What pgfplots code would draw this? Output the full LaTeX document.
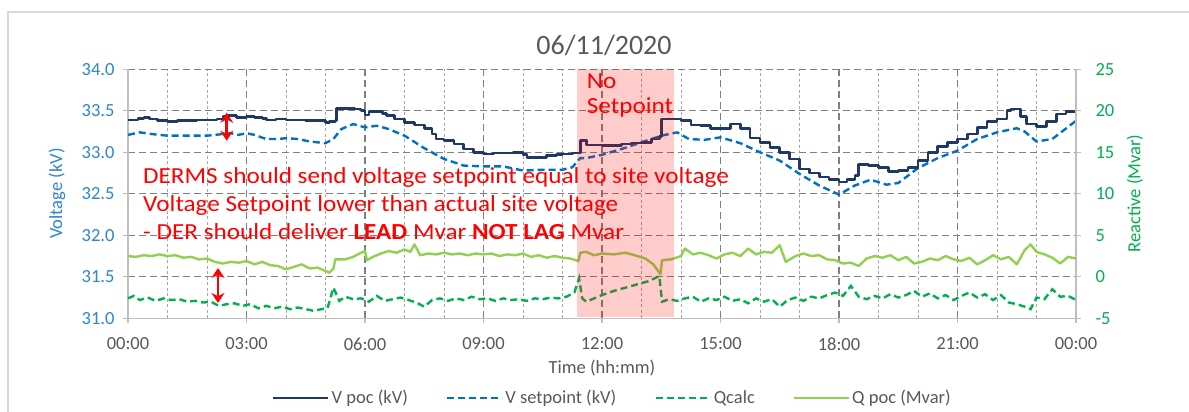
\documentclass[border=0pt]{standalone}
\usepackage{pgfplots}
\pgfplotsset{compat=1.18}
\usepackage{fontspec}
\setmainfont{Carlito}
\usetikzlibrary{arrows.meta}
\definecolor{navy}{RGB}{31,56,100}
\definecolor{vblue}{RGB}{0,112,192}
\definecolor{qcalc}{RGB}{0,176,80}
\definecolor{qpoc}{RGB}{146,208,80}
\definecolor{lblue}{RGB}{46,134,204}
\definecolor{rgreen}{RGB}{0,176,80}
\definecolor{txtgray}{RGB}{89,89,89}
\definecolor{gridgray}{RGB}{128,128,128}
\definecolor{mingray}{RGB}{166,166,166}
\definecolor{axgray}{RGB}{191,191,191}
\definecolor{framegray}{RGB}{217,217,217}
\newcommand\fs[1]{\fontsize{#1}{#1}\selectfont}

\pgfplotstableread{
h v
0.00 33.39
0.15 33.39
0.25 33.41
0.40 33.42
0.55 33.40
0.75 33.38
1.00 33.37
1.25 33.38
1.50 33.38
1.75 33.39
2.00 33.39
2.25 33.40
2.40 33.43
2.55 33.44
2.75 33.42
3.00 33.43
3.20 33.42
3.40 33.41
3.50 33.39
3.75 33.40
4.00 33.39
4.25 33.39
4.50 33.38
4.75 33.38
5.00 33.36
5.10 33.37
5.25 33.38
5.28 33.53
5.50 33.53
5.75 33.52
5.90 33.50
6.00 33.45
6.10 33.49
6.30 33.49
6.45 33.47
6.55 33.44
6.75 33.40
7.00 33.36
7.25 33.33
7.50 33.29
7.70 33.22
7.80 33.16
8.00 33.14
8.25 33.10
8.50 33.04
8.75 33.00
9.00 32.98
9.25 32.99
9.50 32.99
9.75 33.00
10.00 32.97
10.10 32.94
10.40 32.94
10.60 32.96
10.85 32.97
11.00 32.98
11.25 32.99
11.40 32.99
11.45 33.14
11.55 33.15
11.60 33.09
12.00 33.08
12.25 33.08
12.50 33.10
12.75 33.11
13.00 33.12
13.25 33.16
13.45 33.19
13.50 33.40
13.75 33.40
14.00 33.38
14.25 33.33
14.50 33.32
14.75 33.29
15.00 33.29
15.25 33.34
15.50 33.29
15.75 33.17
16.00 33.12
16.25 33.06
16.50 33.00
16.75 32.92
17.00 32.80
17.25 32.75
17.50 32.70
17.75 32.67
18.00 32.64
18.20 32.67
18.40 32.72
18.50 32.85
18.75 32.84
19.00 32.82
19.25 32.77
19.50 32.78
19.75 32.82
20.00 32.90
20.25 33.00
20.50 33.07
20.75 33.12
21.00 33.16
21.25 33.22
21.50 33.30
21.75 33.37
22.00 33.40
22.25 33.50
22.35 33.52
22.60 33.43
22.75 33.34
23.00 33.31
23.25 33.37
23.50 33.46
23.75 33.49
24.00 33.56
}\vpoc

\pgfplotstableread{
h v
0.00 33.21
0.30 33.24
0.60 33.22
1.00 33.20
1.50 33.20
2.00 33.20
2.40 33.22
2.60 33.23
2.80 33.21
3.00 33.23
3.20 33.21
3.50 33.16
3.80 33.16
4.00 33.17
4.30 33.16
4.60 33.13
5.00 33.11
5.20 33.16
5.40 33.28
5.70 33.34
6.00 33.30
6.30 33.32
6.60 33.28
7.00 33.20
7.50 33.05
8.00 32.92
8.50 32.84
9.00 32.83
9.50 32.83
10.00 32.78
10.50 32.79
11.00 32.79
11.25 32.82
11.45 32.93
11.60 32.93
12.00 32.97
12.50 33.04
13.00 33.12
13.50 33.20
13.90 33.24
14.20 33.16
14.60 33.15
15.00 33.18
15.50 33.11
16.00 33.00
16.50 32.90
17.00 32.74
17.50 32.60
18.00 32.49
18.40 32.60
18.80 32.67
19.20 32.61
19.50 32.63
20.00 32.81
20.50 32.93
21.00 33.02
21.50 33.16
22.00 33.24
22.50 33.29
22.70 33.25
23.00 33.13
23.40 33.16
24.00 33.38
}\vset

\pgfplotstableread{
h q
0.00 -2.6
0.15 -2.3
0.30 -2.8
0.50 -2.5
0.70 -2.9
0.90 -2.6
1.10 -2.8
1.30 -2.7
1.50 -3.0
1.70 -2.9
1.90 -3.1
2.10 -3.0
2.30 -3.5
2.50 -3.3
2.70 -3.2
2.90 -3.5
3.10 -3.3
3.30 -3.8
3.50 -3.5
3.70 -3.8
3.90 -3.6
4.10 -3.9
4.30 -3.7
4.50 -3.9
4.70 -4.1
4.90 -3.9
5.05 -3.8
5.20 -1.3
5.35 -2.9
5.50 -2.4
5.70 -2.7
5.90 -2.6
6.10 -3.0
6.30 -2.3
6.50 -2.9
6.70 -2.7
6.90 -2.5
7.10 -2.8
7.30 -3.1
7.50 -3.6
7.70 -2.8
7.90 -2.6
8.10 -2.9
8.30 -2.6
8.50 -2.8
8.70 -2.4
8.90 -2.7
9.10 -2.6
9.30 -2.9
9.50 -2.6
9.70 -2.8
9.90 -2.7
10.10 -2.9
10.30 -2.6
10.50 -2.7
10.70 -2.5
10.90 -2.6
11.10 -2.4
11.30 -1.9
11.42 -0.2
11.50 -2.6
11.60 -3.0
11.80 -2.6
12.00 -2.2
12.30 -1.7
12.60 -1.3
12.90 -0.9
13.20 -0.5
13.45 0.1
13.52 -3.0
13.70 -2.7
13.90 -2.9
14.10 -2.6
14.30 -2.4
14.50 -3.0
14.70 -2.6
14.90 -2.8
15.10 -2.4
15.30 -2.9
15.50 -2.7
15.70 -3.2
15.90 -2.6
16.10 -3.0
16.30 -2.7
16.50 -3.6
16.70 -2.8
16.90 -2.5
17.10 -2.9
17.30 -2.4
17.50 -2.6
17.70 -2.2
17.90 -1.9
18.10 -2.3
18.30 -1.1
18.50 -2.4
18.70 -2.7
18.90 -2.3
19.10 -2.6
19.30 -2.1
19.50 -2.5
19.70 -2.2
19.90 -1.7
20.10 -2.4
20.30 -2.0
20.50 -2.6
20.70 -2.2
20.90 -2.8
21.10 -2.3
21.30 -1.9
21.50 -2.5
21.70 -2.1
21.90 -2.8
22.10 -2.2
22.30 -3.1
22.50 -3.3
22.70 -3.6
22.85 -3.9
23.00 -2.5
23.20 -2.7
23.40 -1.5
23.60 -2.4
23.80 -2.3
24.00 -2.8
}\qcalc

\pgfplotstableread{
h q
0.00 2.5
0.20 2.4
0.40 2.6
0.60 2.5
0.80 2.7
1.00 2.5
1.20 2.6
1.40 2.3
1.60 2.4
1.80 2.1
2.00 2.2
2.20 1.8
2.40 1.6
2.60 1.8
2.80 1.7
3.00 1.9
3.20 1.5
3.40 1.8
3.60 1.4
3.80 1.3
4.00 0.9
4.20 1.2
4.40 1.5
4.60 1.0
4.80 1.1
5.00 0.7
5.10 0.5
5.20 1.0
5.25 2.1
5.50 2.1
5.70 2.4
5.90 2.9
6.00 3.1
6.05 2.0
6.20 2.4
6.40 2.8
6.60 3.1
6.80 2.9
7.00 3.3
7.15 3.0
7.25 3.9
7.40 2.6
7.60 2.8
7.80 2.7
8.00 2.9
8.20 2.7
8.40 2.8
8.60 2.6
8.80 2.8
9.00 2.7
9.20 2.8
9.40 2.5
9.60 2.7
9.80 2.6
10.00 2.8
10.20 2.4
10.40 2.6
10.60 2.3
10.80 2.5
11.00 2.3
11.20 2.2
11.40 1.9
11.45 2.9
11.60 3.0
11.80 2.6
12.00 2.8
12.30 2.7
12.60 2.9
12.90 2.5
13.10 2.2
13.30 1.5
13.48 0.3
13.52 2.0
13.75 2.1
14.00 2.5
14.10 3.4
14.30 2.7
14.50 2.9
14.70 2.6
14.90 2.2
15.10 2.7
15.30 2.9
15.50 2.5
15.70 3.4
15.90 2.7
16.10 3.0
16.30 2.9
16.50 3.8
16.65 1.8
16.90 2.5
17.10 2.8
17.30 2.5
17.50 2.6
17.70 2.1
17.90 2.0
18.10 1.6
18.30 1.7
18.50 1.3
18.70 2.2
18.90 2.5
19.10 2.3
19.30 2.6
19.50 2.0
19.70 2.4
19.90 1.6
20.10 1.8
20.30 2.2
20.50 2.0
20.70 2.5
20.90 2.1
21.10 1.9
21.30 2.3
21.50 1.5
21.70 2.0
21.90 2.6
22.10 2.1
22.30 2.4
22.50 1.5
22.70 3.2
22.85 3.9
23.00 3.0
23.20 2.7
23.40 2.3
23.60 1.6
23.80 2.4
24.00 2.2
}\qpoc

\pgfplotsset{
  base/.style={
    at={(128pt,93.7pt)}, anchor=south west, scale only axis,
    width=948pt, height=249pt,
    xmin=0, xmax=24,
    axis line style={draw=axgray, line width=1.2pt},
    tick style={draw=axgray, line width=1.2pt},
    major tick length=5pt, tick align=outside,
    tick label style={font=\fs{18.5}},
    /pgf/number format/assume math mode=true,
    clip=false,
  },
  vpocstyle/.style={navy, line width=2.6pt, line join=round},
  vsetstyle/.style={vblue, line width=2.4pt, dash pattern=on 7pt off 4pt},
  qcalcstyle/.style={qcalc, line width=2.4pt, dash pattern=on 7pt off 4pt},
  qpocstyle/.style={qpoc, line width=2.4pt, line join=round},
}

\begin{document}
\begin{tikzpicture}
\useasboundingbox (0,0) rectangle (1189pt,412pt);
\fill[white] (0,0) rectangle (1189pt,412pt);
\draw[framegray, line width=1.5pt] (8pt,0pt) -- (8pt,400pt) -- (1189pt,400pt);

\begin{axis}[base,
  ymin=31, ymax=34,
  axis y line*=left, axis x line*=bottom,
  xtick={0,3,...,24},
  xticklabels={00:00,03:00,06:00,09:00,12:00,15:00,18:00,21:00,00:00},
  minor xtick={1,2,4,5,7,8,10,11,13,14,16,17,19,20,22,23},
  ytick={31,31.5,...,34},
  yticklabel style={text=lblue, xshift=-5pt, /pgf/number format/.cd, fixed, fixed zerofill, precision=1},
  xticklabel style={text=txtgray, yshift=-11pt},
  xmajorgrids, ymajorgrids, xminorgrids,
  major grid style={gridgray, line width=1.1pt, dash pattern=on 7pt off 4pt},
  minor grid style={mingray, line width=0.8pt, dash pattern=on 3pt off 2.5pt},
  minor tick length=0pt,
]
\addplot[vsetstyle] table[x=h,y=v] {\vset};
\addplot[vpocstyle, const plot] table[x=h,y=v] {\vpoc};
\end{axis}

\begin{axis}[base,
  ymin=-5, ymax=25,
  axis y line*=right, axis x line=none,
  ytick={-5,0,...,25},
  yticklabel style={text=rgreen, xshift=11pt},
  legend columns=4,
  legend style={at={(0.511,-0.32)}, anchor=center, draw=none, fill=none,
    font=\fs{18.5}, text=txtgray,
    /tikz/every even column/.append style={column sep=36pt}},
  legend image code/.code={\draw[#1] (0pt,0pt) -- (55pt,0pt);},
]
\addlegendimage{vpocstyle}
\addlegendentry{V poc (kV)}
\addlegendimage{vsetstyle}
\addlegendentry{V setpoint (kV)}
\addplot[qcalcstyle] table[x=h,y=q] {\qcalc};
\addlegendentry{Qcalc}
\addplot[qpocstyle] table[x=h,y=q] {\qpoc};
\addlegendentry{Q poc (Mvar)}
\fill[red, opacity=0.2] (axis cs:11.37,-4.8) rectangle (axis cs:13.83,25);
\end{axis}

\node[txtgray, font=\fs{28}] at (604pt,367pt) {06/11/2020};
\node[txtgray, font=\fs{18.5}] at (602pt,44pt) {Time (hh:mm)};
\node[lblue, font=\fs{18.5}, rotate=90] at (57pt,218.5pt) {Voltage (kV)};
\node[rgreen, font=\fs{18.5}, rotate=90] at (1135pt,218.5pt) {Reactive (Mvar)};

\begin{scope}[red, font=\fs{23}]
\node[anchor=base west, inner sep=0pt, xscale=1.095] at (143pt,228pt) {DERMS should send voltage setpoint equal to site voltage};
\node[anchor=base west, inner sep=0pt, xscale=1.095] at (143pt,200.3pt) {Voltage Setpoint lower than actual site voltage};
\node[anchor=base west, inner sep=0pt, xscale=1.095] at (143pt,172pt) {- DER should deliver \textbf{LEAD} Mvar \textbf{NOT LAG} Mvar};
\node[anchor=base west, inner sep=0pt, xscale=1.095] at (586.7pt,323.7pt) {No};
\node[anchor=base west, inner sep=0pt, xscale=1.095] at (586.7pt,298pt) {Setpoint};
\end{scope}
\draw[red, line width=2.8pt, {Stealth[length=10pt,width=13pt]}-{Stealth[length=10pt,width=13pt]}] (226.7pt,299.3pt) -- (226.7pt,271.3pt);
\draw[red, line width=2.8pt, {Stealth[length=10pt,width=13pt]}-{Stealth[length=10pt,width=13pt]}] (218pt,144pt) -- (218pt,109pt);
\end{tikzpicture}
\end{document}
